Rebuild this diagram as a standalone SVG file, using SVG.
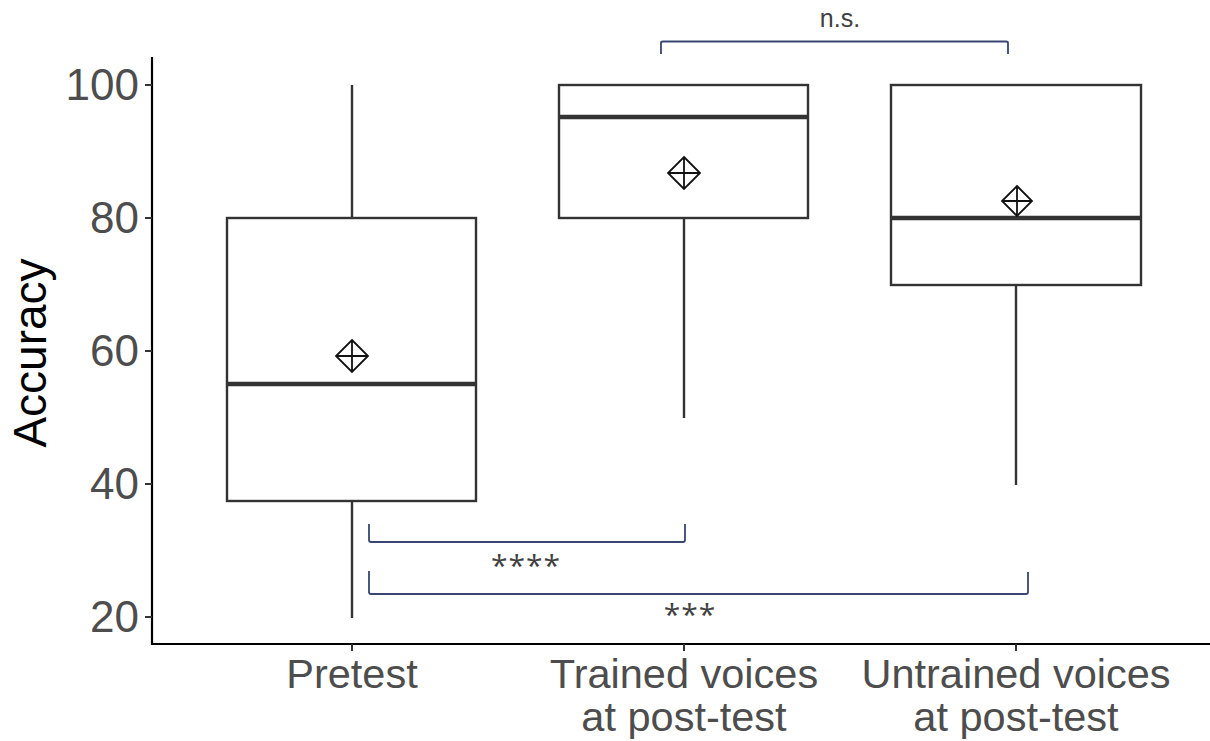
<svg xmlns="http://www.w3.org/2000/svg" width="1210" height="741" viewBox="0 0 1210 741">
<style>
.box{fill:#fff;stroke:#333;stroke-width:2.4}
.wh{stroke:#333;stroke-width:2.4;fill:none}
.med{stroke:#333;stroke-width:4.5}
.mean{fill:none;stroke:#111;stroke-width:1.8}
.axis{stroke:#000;stroke-width:2.2;fill:none}
.tick{stroke:#333;stroke-width:2}
.ytl{font-family:"Liberation Sans",Arial,sans-serif;font-size:44px;fill:#4d4d4d;text-anchor:end}
.xtl{font-family:"Liberation Sans",Arial,sans-serif;font-size:41.5px;fill:#4d4d4d;text-anchor:middle}
.ttl{font-family:"Liberation Sans",Arial,sans-serif;font-size:46px;fill:#000;text-anchor:middle}
.br{fill:none;stroke:#3a4672;stroke-width:1.8}
.sig{font-family:"Liberation Sans",Arial,sans-serif;font-size:25px;fill:#404040;text-anchor:middle}
.ast{font-family:"Open Sans","Liberation Sans",sans-serif;font-size:30px;fill:#404040;text-anchor:middle;letter-spacing:1px}
</style>
<rect width="1210" height="741" fill="#fff"/>
<g id="axes">
<path class="axis" d="M152,57 V644 H1210"/>
<g class="tick">
<line x1="145" y1="85" x2="152" y2="85"/>
<line x1="145" y1="218" x2="152" y2="218"/>
<line x1="145" y1="351" x2="152" y2="351"/>
<line x1="145" y1="484" x2="152" y2="484"/>
<line x1="145" y1="617" x2="152" y2="617"/>
<line x1="352" y1="644" x2="352" y2="651"/>
<line x1="684" y1="644" x2="684" y2="651"/>
<line x1="1016" y1="644" x2="1016" y2="651"/>
</g>
<text class="ytl" x="139" y="100">100</text>
<text class="ytl" x="139" y="233">80</text>
<text class="ytl" x="139" y="366">60</text>
<text class="ytl" x="139" y="499">40</text>
<text class="ytl" x="139" y="632">20</text>
<text class="ttl" transform="translate(46,353) rotate(-90)">Accuracy</text>
<text class="xtl" x="352" y="688">Pretest</text>
<text class="xtl" x="684" y="688">Trained voices</text>
<text class="xtl" x="684" y="731">at post-test</text>
<text class="xtl" x="1016" y="688">Untrained voices</text>
<text class="xtl" x="1016" y="731">at post-test</text>
</g>
<g id="pretest">
<line class="wh" x1="352" y1="85" x2="352" y2="218"/>
<line class="wh" x1="352" y1="501" x2="352" y2="618"/>
<rect class="box" x="227" y="218" width="249" height="283"/>
<line class="med" x1="227" y1="384" x2="476" y2="384"/>
<path class="mean" d="M352,340 L368,356 L352,372 L336,356 Z M352,340 V372 M336,356 H368"/>
</g>
<g id="trained">
<line class="wh" x1="684" y1="218" x2="684" y2="418"/>
<rect class="box" x="559" y="85" width="249" height="133"/>
<line class="med" x1="559" y1="117" x2="808" y2="117"/>
<path class="mean" d="M684,157 L700,173 L684,189 L668,173 Z M684,157 V189 M668,173 H700"/>
</g>
<g id="untrained">
<line class="wh" x1="1016" y1="285" x2="1016" y2="485"/>
<rect class="box" x="891" y="85" width="250" height="200"/>
<line class="med" x1="891" y1="218" x2="1141" y2="218"/>
<path class="mean" d="M1017,186 L1032,201 L1017,216 L1002,201 Z M1017,186 V216 M1002,201 H1032"/>
</g>
<g id="connectors">
<path class="br" d="M661,54 V43 Q661,41.5 663,41.5 H1006 Q1008,41.5 1008,43 V54"/>
<path class="br" d="M369,524 V540 Q369,542 371,542 H683 Q685,542 685,540 V524"/>
<path class="br" d="M369,571 V592 Q369,594 371,594 H1026 Q1028,594 1028,592 V572"/>
</g>
<text class="sig" x="840" y="27">n.s.</text>
<text class="ast" x="526" y="576">****</text>
<text class="ast" x="690" y="625">***</text>
</svg>
